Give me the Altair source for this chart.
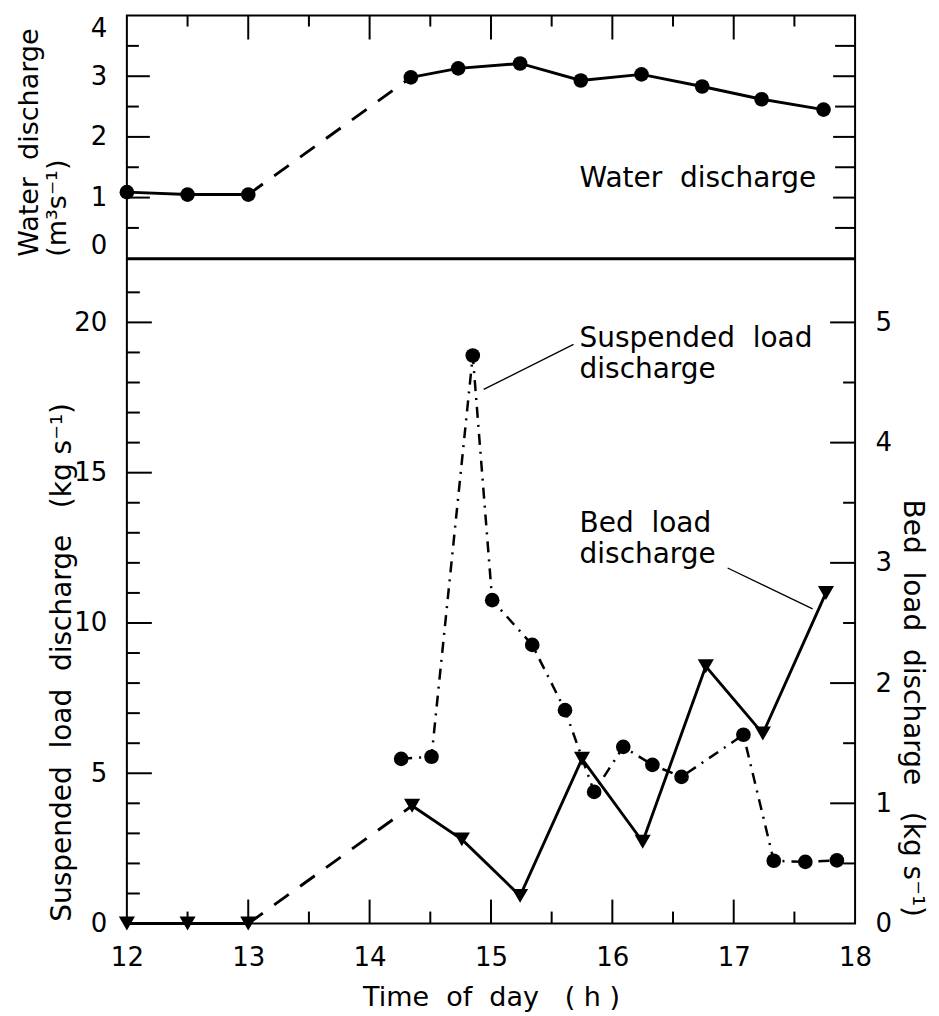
import altair as alt
import pandas as pd

# ---------------- data ----------------
water_t = [12.0, 12.5, 13.0, 14.34, 14.73, 15.24, 15.74, 16.24, 16.74, 17.23, 17.74]
water_q = [1.09, 1.05, 1.05, 2.98, 3.13, 3.21, 2.93, 3.03, 2.83, 2.62, 2.45]
water_seg = [0, 0, 0, 1, 1, 1, 1, 1, 1, 1, 1]
water_gap = [2, 3]  # stretch drawn dashed

susp_t = [14.26, 14.51, 14.85, 15.01, 15.34, 15.61, 15.85, 16.09, 16.33, 16.57, 17.08, 17.33, 17.59, 17.85]
susp_q = [5.48, 5.55, 18.9, 10.76, 9.27, 7.1, 4.38, 5.88, 5.28, 4.88, 6.28, 2.09, 2.05, 2.1]

bed_t = [12.0, 12.5, 13.0, 14.35, 14.76, 15.24, 15.75, 16.25, 16.77, 17.24, 17.76]
bed_q = [0.0, 0.0, 0.0, 0.98, 0.70, 0.23, 1.37, 0.68, 2.14, 1.58, 2.75]
bed_seg = [0, 0, 0, 1, 1, 1, 1, 1, 1, 1, 1]
bed_gap = [2, 3]

x_labels = [12, 13, 14, 15, 16, 17, 18]
x_major = [13, 14, 15, 16, 17]
x_minor = [12.5, 13.5, 14.5, 15.5, 16.5, 17.5]
water_labels = [0, 1, 2, 3, 4]
water_major = [1, 2, 3]
water_minor = [0.5, 1.5, 2.5, 3.5]
susp_labels = [0, 5, 10, 15, 20]
susp_major = [5, 10, 15, 20]
susp_minor = [1, 2, 3, 4, 6, 7, 8, 9, 11, 12, 13, 14, 16, 17, 18, 19, 21]
bed_labels = [0, 1, 2, 3, 4, 5]
bed_major = [1, 2, 3, 4, 5]
bed_minor = [0.5, 1.5, 2.5, 3.5, 4.5]

SP = " \u00a0"  # widened word gap (plain spaces collapse in SVG)

top_note_t = [15.73]
top_note_v = [1.17]
top_note_text = ["Water" + SP + "discharge"]

bot_note_t = [15.73, 15.73]
bot_note_v = [19.17, 13.02]
bot_note_text = ["Suspended" + SP + "load\ndischarge", "Bed" + SP + "load\ndischarge"]

lead_t1 = [15.68, 16.95]
lead_v1 = [19.27, 11.83]
lead_t2 = [14.94, 17.65]
lead_v2 = [17.77, 10.47]

# ---------------- layout ----------------
W = 729
H_TOP = 243
H_BOT = 665
FONT = "DejaVu Sans"
INK = "black"
NOTE_SIZE = 28

xscale = alt.Scale(domain=[12, 18], nice=False, zero=False)
ytop = alt.Scale(domain=[0, 4], nice=False)
yleft = alt.Scale(domain=[0, 22.1], nice=False)
yright = alt.Scale(domain=[0, 5.525], nice=False)

top_y_axis = alt.Axis(values=water_labels, labelPadding=20, labelFlush=True,
                      title=["Water" + SP + "discharge", "(m³s⁻¹)"], titleAngle=270,
                      titleAlign="left", titleBaseline="alphabetic", titleFontSize=27,
                      titleX=-89, titleY=241, titleLineHeight=28)
x_axis = alt.Axis(values=x_labels, labelPadding=21, labelFlush=False,
                  title="Time" + SP + "of" + SP + "day" + SP + " ( h )", titleFontSize=27,
                  titleX=W / 2, titleY=82, titleAlign="center", titleBaseline="alphabetic")
left_axis = alt.Axis(values=susp_labels, labelPadding=20,
                     title="Suspended" + SP + "load" + SP + "discharge" + SP + " (kg s⁻¹)", titleAngle=270,
                     titleFontSize=28,
                     titleAlign="center", titleBaseline="alphabetic", titleX=-56, titleY=403)
right_axis = alt.Axis(values=bed_labels, orient="right", labelPadding=20,
                      title="Bed" + SP + "load" + SP + "discharge" + SP + " (kg s⁻¹)", titleAngle=90,
                      titleFontSize=28,
                      titleAlign="center", titleBaseline="alphabetic", titleX=48, titleY=449)


def X(field, axis):
    return alt.X(field, type="quantitative", scale=xscale, axis=axis)


def vticks(values, scale, axis, length, side, width=W):
    x0 = 0 if side == "left" else width
    x1 = length if side == "left" else width - length
    return alt.Chart(pd.DataFrame({"v": values})).mark_rule(color=INK, strokeWidth=2).encode(
        y=alt.Y("v:Q", scale=scale, axis=axis),
        x=alt.value(x0), x2=alt.value(x1))


def hticks(values, axis, length, side, height):
    y0 = 0 if side == "top" else height
    y1 = length if side == "top" else height - length
    return alt.Chart(pd.DataFrame({"v": values})).mark_rule(color=INK, strokeWidth=2).encode(
        x=X("v", axis),
        y=alt.value(y0), y2=alt.value(y1))


# ---------------- top panel: water discharge ----------------
water_df = pd.DataFrame({"t": water_t, "v": water_q, "seg": water_seg})
water_gap_df = water_df.iloc[water_gap]

YT = dict(scale=ytop, axis=top_y_axis)

water_line = alt.Chart(water_df).mark_line(color=INK, strokeWidth=2.9).encode(
    x=X("t", None), y=alt.Y("v:Q", **YT), detail="seg:N")
water_dash = alt.Chart(water_gap_df).mark_line(color=INK, strokeWidth=2.9, strokeDash=[18, 14]).encode(
    x=X("t", None), y=alt.Y("v:Q", **YT))
water_pts = alt.Chart(water_df).mark_point(shape="circle", filled=True, size=215, color=INK, opacity=1).encode(
    x=X("t", None), y=alt.Y("v:Q", **YT))
top_note = alt.Chart(pd.DataFrame({"t": top_note_t, "v": top_note_v, "s": top_note_text})).mark_text(
    align="left", baseline="alphabetic", font=FONT, fontSize=NOTE_SIZE, color=INK).encode(
    x=X("t", None), y=alt.Y("v:Q", **YT), text="s:N")

top = alt.layer(
    water_line, water_dash, water_pts, top_note,
    vticks(water_major, ytop, top_y_axis, 23, "left"), vticks(water_minor, ytop, top_y_axis, 12, "left"),
    vticks(water_major, ytop, top_y_axis, 22, "right"), vticks(water_minor, ytop, top_y_axis, 20, "right"),
    hticks(x_major, None, 24, "top", H_TOP), hticks(x_minor, None, 11, "top", H_TOP),
).properties(width=W, height=H_TOP)

# ---------------- bottom panel: sediment discharge ----------------
susp_df = pd.DataFrame({"t": susp_t, "v": susp_q})
bed_df = pd.DataFrame({"t": bed_t, "v": bed_q, "seg": bed_seg})
bed_gap_df = bed_df.iloc[bed_gap]

YL = dict(scale=yleft, axis=left_axis)
YR = dict(scale=yright, axis=right_axis)

susp_line = alt.Chart(susp_df).mark_line(color=INK, strokeWidth=2.5, strokeDash=[11, 7, 2, 7]).encode(
    x=X("t", x_axis), y=alt.Y("v:Q", **YL))
susp_pts = alt.Chart(susp_df).mark_point(shape="circle", filled=True, size=215, color=INK, opacity=1).encode(
    x=X("t", x_axis), y=alt.Y("v:Q", **YL))
notes = alt.Chart(pd.DataFrame({"t": bot_note_t, "v": bot_note_v, "s": bot_note_text})).mark_text(
    align="left", baseline="alphabetic", font=FONT, fontSize=NOTE_SIZE, color=INK,
    lineBreak="\n", lineHeight=31).encode(
    x=X("t", x_axis), y=alt.Y("v:Q", **YL), text="s:N")
leaders = alt.Chart(pd.DataFrame({"t1": lead_t1, "v1": lead_v1, "t2": lead_t2, "v2": lead_v2})).mark_rule(
    color=INK, strokeWidth=1.3).encode(
    x=X("t1", x_axis), x2="t2:Q", y=alt.Y("v1:Q", **YL), y2="v2:Q")

left_group = alt.layer(
    susp_line, susp_pts, notes, leaders,
    vticks(susp_major, yleft, left_axis, 25, "left"), vticks(susp_minor, yleft, left_axis, 13, "left"),
    hticks(x_major, x_axis, 24, "bottom", H_BOT), hticks(x_minor, x_axis, 12, "bottom", H_BOT),
)

bed_line = alt.Chart(bed_df).mark_line(color=INK, strokeWidth=2.9).encode(
    x=X("t", x_axis), y=alt.Y("v:Q", **YR), detail="seg:N")
bed_dash = alt.Chart(bed_gap_df).mark_line(color=INK, strokeWidth=2.9, strokeDash=[18, 14]).encode(
    x=X("t", x_axis), y=alt.Y("v:Q", **YR))
bed_pts = alt.Chart(bed_df).mark_point(shape="triangle-down", filled=True, size=260, color=INK, opacity=1).encode(
    x=X("t", x_axis), y=alt.Y("v:Q", **YR))

right_group = alt.layer(
    bed_line, bed_dash, bed_pts,
    vticks(bed_major, yright, right_axis, 25, "right"), vticks(bed_minor, yright, right_axis, 12, "right"),
)

bottom = alt.layer(left_group, right_group).resolve_scale(y="independent").properties(width=W, height=H_BOT)

chart = alt.vconcat(top, bottom, spacing=-2).properties(
    padding={"left": 6, "top": 5, "right": 5, "bottom": 0},
    background="white",
).configure_view(
    stroke=INK, strokeWidth=2
).configure_axis(
    labelFont=FONT, titleFont=FONT, labelFontSize=26, titleFontSize=27,
    labelColor=INK, titleColor=INK, titleFontWeight="normal",
    ticks=False, tickSize=0, domain=False, grid=False,
)

chart.save("out.html", embed_options={"renderer": "svg", "actions": False})
